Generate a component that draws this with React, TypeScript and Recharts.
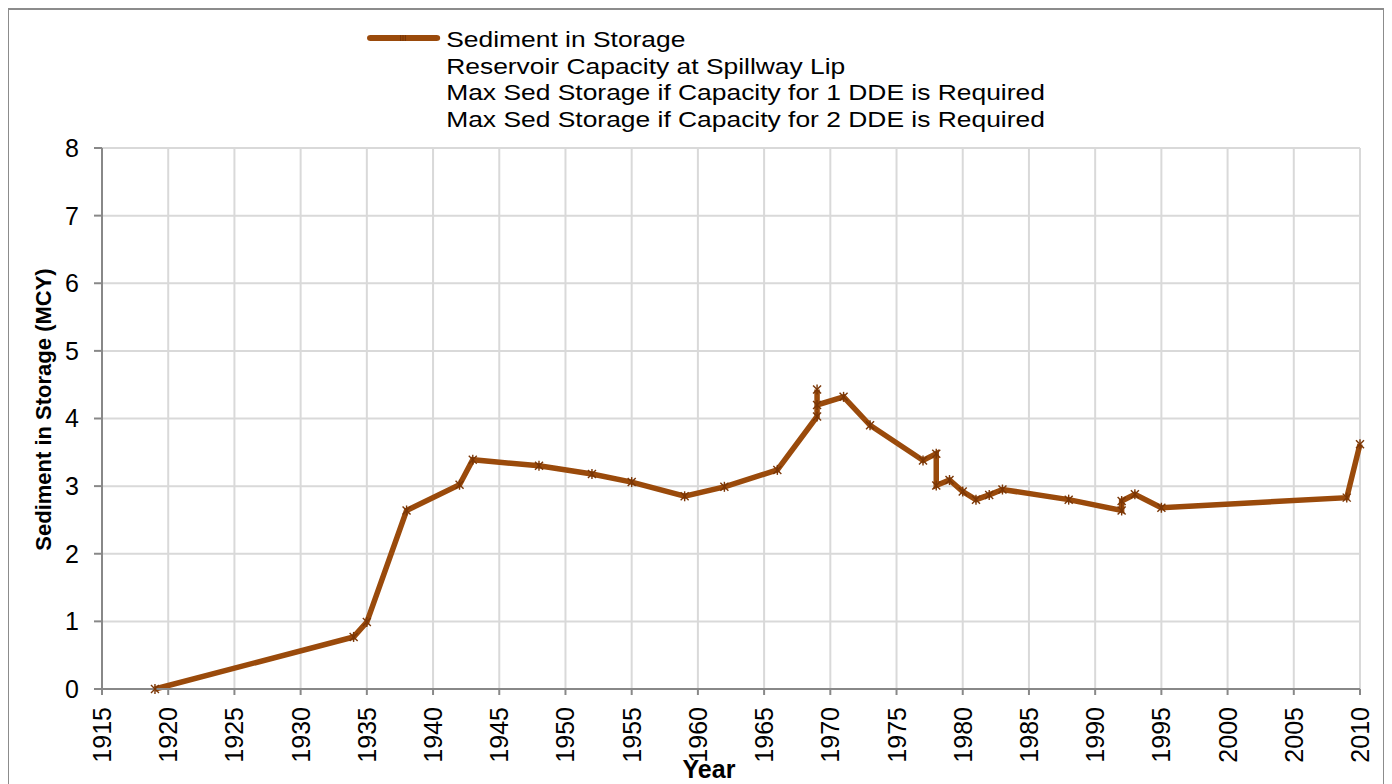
import React from 'react'
import { LineChart, Line, XAxis, YAxis, CartesianGrid } from 'recharts'

const years = [1919, 1934, 1935, 1938, 1942, 1943, 1948, 1952, 1955, 1959, 1962, 1966, 1969, 1969, 1969, 1971, 1973, 1977, 1978, 1978, 1979, 1980, 1981, 1982, 1983, 1988, 1992, 1992, 1993, 1995, 2009, 2010]
const sediment = [0, 0.77, 0.99, 2.64, 3.02, 3.39, 3.3, 3.18, 3.06, 2.85, 2.99, 3.24, 4.03, 4.43, 4.2, 4.32, 3.9, 3.38, 3.48, 3.01, 3.09, 2.92, 2.8, 2.87, 2.95, 2.8, 2.64, 2.78, 2.88, 2.68, 2.83, 3.62]

const xTicks = [1915, 1920, 1925, 1930, 1935, 1940, 1945, 1950, 1955, 1960, 1965, 1970, 1975, 1980, 1985, 1990, 1995, 2000, 2005, 2010]
const yTicks = [0, 1, 2, 3, 4, 5, 6, 7, 8]

const seriesNames = [
  'Sediment in Storage',
  'Reservoir Capacity at Spillway Lip',
  'Max Sed Storage if Capacity for 1 DDE is Required',
  'Max Sed Storage if Capacity for 2 DDE is Required',
]

const data = years.map((year, i) => ({ year, sediment: sediment[i] }))

const LINE = '#9a4a0b'
const MARK = '#7a3606'
const FONT = '"Liberation Sans", Arial, sans-serif'

// little asterisk marker like the excel one
const StarDot = (props: any) => {
  const { cx, cy } = props
  if (cx == null || cy == null) return null
  const s = 4
  return (
    <g stroke={MARK} strokeWidth={1.4}>
      <line x1={cx - s} y1={cy - s} x2={cx + s} y2={cy + s} />
      <line x1={cx - s} y1={cy + s} x2={cx + s} y2={cy - s} />
      <line x1={cx} y1={cy - s - 1} x2={cx} y2={cy + s + 1} />
    </g>
  )
}

const YearTick = (props: any) => {
  const { x, y, payload } = props
  return (
    <g transform={`translate(${x},${y})`}>
      <text transform="rotate(-90)" x={-10} y={0} dy="0.36em" textAnchor="end" fontSize={25} fill="#000" fontFamily={FONT}>
        {payload.value}
      </text>
    </g>
  )
}

const YLabel = (props: any) => {
  const { viewBox } = props
  const cy = viewBox.y + viewBox.height / 2 - 9
  const cx = 34
  return (
    <text x={cx} y={cy} transform={`rotate(-90, ${cx}, ${cy})`} textAnchor="middle" dominantBaseline="central" fontSize={22} fontWeight="bold" fill="#000" fontFamily={FONT}>
      Sediment in Storage (MCY)
    </text>
  )
}

const XLabel = () => (
  <text x={700} y={768} textAnchor="middle" fontSize={25} fontWeight="bold" fill="#000" fontFamily={FONT}>
    Year
  </text>
)

const LegendBox = () => (
  <div style={{ position: 'absolute', left: 358, top: 17, fontFamily: FONT, fontSize: 22, lineHeight: '26.6px', color: '#000', transform: 'scaleX(1.2)', transformOrigin: 'left top' }}>
    {seriesNames.map((name, i) => (
      <div key={name} style={{ display: 'flex', alignItems: 'center', whiteSpace: 'nowrap', height: 26.6 }}>
        <svg width={66} height={26} style={{ flex: 'none' }}>
          {i === 0 && (
            <g>
              <line x1={3} y1={11} x2={58} y2={11} stroke={LINE} strokeWidth={6} strokeLinecap="round" />
              <line x1={28} y1={8} x2={28} y2={14} stroke={MARK} strokeWidth={1} />
              <line x1={30} y1={8} x2={30} y2={14} stroke={MARK} strokeWidth={1} />
              <line x1={32} y1={8} x2={32} y2={14} stroke={MARK} strokeWidth={1} />
            </g>
          )}
        </svg>
        <span>{name}</span>
      </div>
    ))}
  </div>
)

export default function App() {
  return (
    <div style={{ width: 1378, height: 800, border: '2px solid #8c8c8c', boxSizing: 'border-box', marginLeft: -1, position: 'relative', background: '#fff' }}>
      <LegendBox />
      <LineChart width={1370} height={790} data={data} margin={{ top: 138, right: 19, left: 31, bottom: 0 }}>
        <CartesianGrid stroke="#d9d9d9" strokeWidth={2} />
        <XAxis
          dataKey="year"
          type="number"
          domain={[1915, 2010]}
          ticks={xTicks}
          interval={0}
          height={111}
          stroke="#888"
          strokeWidth={2}
          tickSize={6}
          tick={<YearTick />}
          label={<XLabel />}
        />
        <YAxis
          domain={[0, 8]}
          ticks={yTicks}
          interval={0}
          width={62}
          stroke="#888"
          strokeWidth={2}
          tickSize={8}
          tickMargin={15}
          tick={{ fontSize: 25, fill: '#000', fontFamily: FONT }}
          label={<YLabel />}
        />
        <Line
          type="linear"
          dataKey="sediment"
          name={seriesNames[0]}
          stroke={LINE}
          strokeWidth={5.5}
          dot={<StarDot />}
          activeDot={false}
          isAnimationActive={false}
        />
      </LineChart>
    </div>
  )
}
